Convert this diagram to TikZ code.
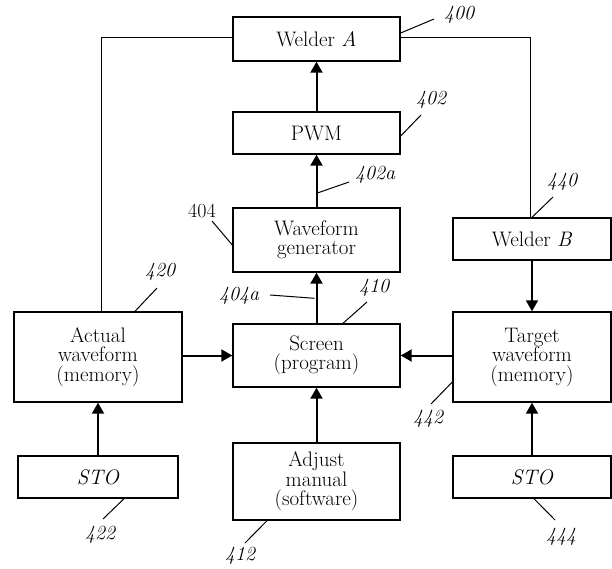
\documentclass[tikz,border=0pt]{standalone}
\usepackage{fontspec}
\usepackage{tikz}
\usetikzlibrary{shapes, arrows.meta}

\begin{document}
\begin{tikzpicture}[x=1pt, y=-1pt,
        block/.style={draw, rectangle, line width=1.4pt, inner sep=0pt, align=center,
            font=\fontsize{21}{19.5}\selectfont},
        tag/.style={inner sep=0pt, font=\fontsize{20}{20}\selectfont\itshape},
        flow/.style={-{Triangle[length=11pt, width=12pt]}, line width=2pt},
        wire/.style={line width=1pt},
        lead/.style={line width=1pt}]
        \useasboundingbox (0,0) rectangle (612,568);

        % middle column
        \node (welderA) [block, minimum width=167pt, minimum height=44pt] at (316.5,39) {Welder \textit{A}};
        \node (pwm) [block, minimum width=167pt, minimum height=42pt] at (316.5,133) {PWM};
        \node (wavegen) [block, minimum width=167pt, minimum height=64pt] at (316.5,240) {Waveform\\generator};
        \node (screen) [block, minimum width=167pt, minimum height=63pt] at (316.5,355.5) {Screen\\(program)};
        \node (adjust) [block, minimum width=167pt, minimum height=77pt] at (316.5,481.5) {Adjust\\manual\\(software)};

        % left column
        \node (actual) [block, minimum width=168pt, minimum height=90pt] at (98,357) {Actual\\waveform\\(memory)};
        \node (stoleft) [block, minimum width=160pt, minimum height=42pt] at (98,477) {\textit{STO}};

        % right column
        \node (welderB) [block, minimum width=158pt, minimum height=42pt] at (532,239) {Welder \textit{B}};
        \node (target) [block, minimum width=158pt, minimum height=90pt] at (532,357) {Target\\waveform\\(memory)};
        \node (storight) [block, minimum width=158pt, minimum height=42pt] at (532,477) {\textit{STO}};

        \draw [flow] (pwm) -- (welderA);
        \draw [flow] (wavegen) -- (pwm);
        \draw [flow] (screen) -- (wavegen);
        \draw [flow] (adjust) -- (screen);
        \draw [flow] (actual.east |- screen.west) -- (screen.west);
        \draw [flow] (target.west |- screen.east) -- (screen.east);
        \draw [flow] (stoleft) -- (actual);
        \draw [flow] (welderB) -- (target);
        \draw [flow] (storight) -- (target);

        \draw [wire] ([yshift=2pt]welderA.west) -| ([xshift=3pt]actual.north);
        \draw [wire] ([yshift=2pt]welderA.east) -| ([xshift=-2pt]welderB.north);

        % reference numerals
        \node (n400) [tag] at (459,15) {400};
        \node (n402) [tag] at (431,100) {402};
        \node (n402a) [tag] at (375,175) {402a};
        \node (n404) [tag, font=\fontsize{20}{20}\selectfont] at (202,211) {404};
        \node (n404a) [tag] at (239,296) {404a};
        \node (n410) [tag] at (374,288) {410};
        \node (n412) [tag] at (240,556) {412};
        \node (n420) [tag] at (160,272) {420};
        \node (n422) [tag] at (100,535) {422};
        \node (n440) [tag] at (562,182) {440};
        \node (n442) [tag] at (428,419) {442};
        \node (n444) [tag] at (561,537) {444};

        \draw [lead] ([yshift=6pt]welderA.east) -- ([xshift=-25pt, yshift=-4pt]n400.center);
        \draw [lead] ([yshift=-3pt]pwm.east) -- ([xshift=-10pt, yshift=-15pt]n402.center);
        \draw [lead] ([yshift=14pt]wavegen.north) -- ([xshift=-26pt, yshift=-7pt]n402a.center);
        \draw [lead] ([yshift=-5pt]wavegen.west) -- ([xshift=10pt, yshift=-10pt]n404.center);
        \draw [lead] ([xshift=-2pt, yshift=25pt]screen.north) -- ([xshift=31pt, yshift=1pt]n404a.center);
        \draw [lead] ([xshift=26.5pt]screen.north) -- ([xshift=-7pt, yshift=-14pt]n410.center);
        \draw [lead] ([xshift=-49.5pt]adjust.south) -- ([xshift=5pt, yshift=13pt]n412.center);
        \draw [lead] ([xshift=37pt]actual.north) -- ([xshift=-3pt, yshift=-16pt]n420.center);
        \draw [lead] ([xshift=26pt]stoleft.south) -- ([xshift=3pt, yshift=16pt]n422.center);
        \draw [lead] (welderB.north) -- ([xshift=-9pt, yshift=-15pt]n440.center);
        \draw [lead] ([yshift=-25pt]target.west) -- ([xshift=3pt, yshift=15pt]n442.center);
        \draw [lead] ([xshift=2pt]storight.south) -- ([xshift=-6pt, yshift=17pt]n444.center);
    \end{tikzpicture}
\end{document}
